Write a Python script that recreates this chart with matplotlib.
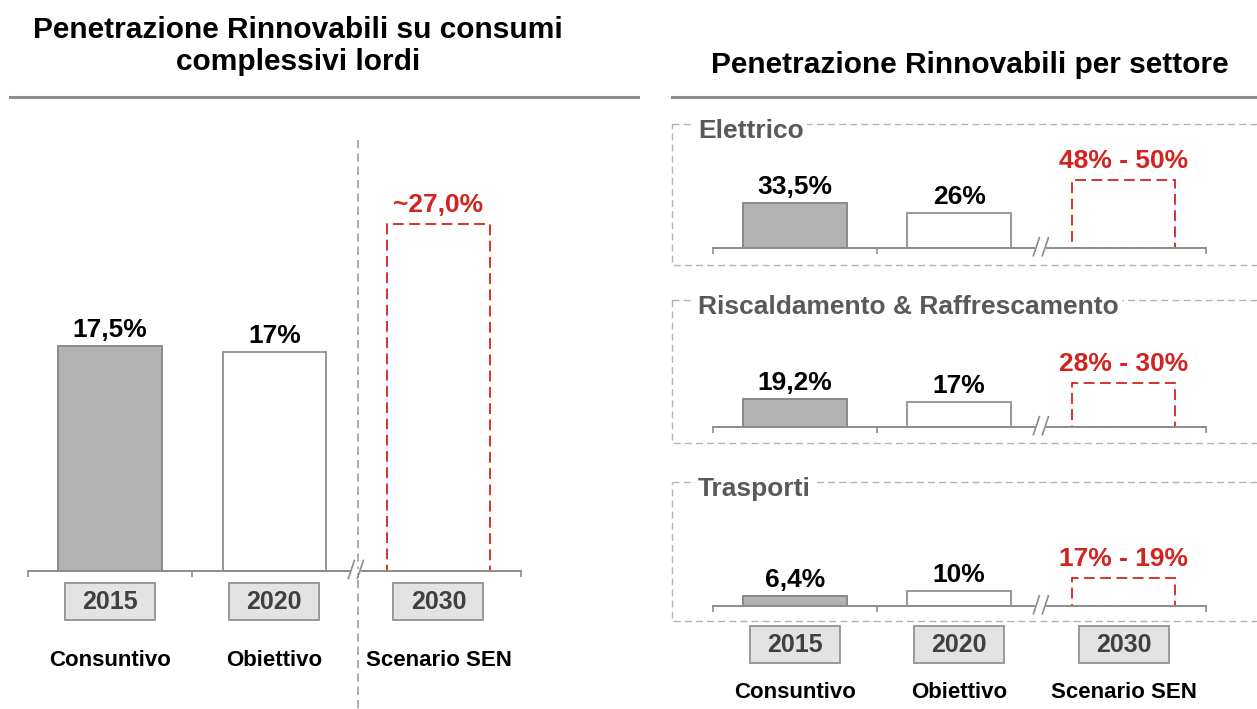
import matplotlib
matplotlib.use("Agg")
import matplotlib.pyplot as plt
from matplotlib.patches import Rectangle
from matplotlib.transforms import IdentityTransform

plt.rcParams["font.family"] = ["Liberation Sans", "DejaVu Sans"]

W, H = 1257, 709

# ── data ─────────────────────────────────────────────────────────────────────
years = ["2015", "2020", "2030"]
phases = ["Consuntivo", "Obiettivo", "Scenario SEN"]

total_values = [17.5, 17.0, 27.0]
total_labels = ["17,5%", "17%", "~27,0%"]

sectors = ["Elettrico", "Riscaldamento & Raffrescamento", "Trasporti"]
elettrico_values = [33.5, 26.0, 50.0]
elettrico_labels = ["33,5%", "26%", "48% - 50%"]
riscaldamento_values = [19.2, 17.0, 30.0]
riscaldamento_labels = ["19,2%", "17%", "28% - 30%"]
trasporti_values = [6.4, 10.0, 19.0]
trasporti_labels = ["6,4%", "10%", "17% - 19%"]

GREY_FILL = "#b2b2b2"
GREY_EDGE = "#8a8a8a"
RED = "#d2231e"
AXIS = "#8c8c8c"

fig = plt.figure(figsize=(W / 100, H / 100), dpi=100)

# background axes in pixel units (origin top-left) for the decorations
bg = fig.add_axes([0, 0, 1, 1])
bg.set_xlim(0, W)
bg.set_ylim(H, 0)
bg.axis("off")


def px_axes(x0, x1, base, height):
    ax = fig.add_axes([x0 / W, (H - base) / H, (x1 - x0) / W, height / H])
    ax.patch.set_visible(False)
    return ax


def draw_panel(ax, values, labels, ymax):
    ax.set_xlim(-0.5, 2.5)
    ax.set_ylim(0, ymax)
    ax.bar(0, values[0], width=0.63, color=GREY_FILL, edgecolor=GREY_EDGE, linewidth=1.4)
    ax.bar(1, values[1], width=0.63, color="white", edgecolor="#999999", linewidth=1.4)
    ax.bar(2, values[2], width=0.63, fill=False, edgecolor=RED, linewidth=1.3,
           linestyle=(0, (6, 3)))
    for i, (v, lab) in enumerate(zip(values, labels)):
        red = i == 2
        ax.annotate(lab, (i, v), xytext=(0, 7 if red else 4), textcoords="offset pixels",
                    ha="center", va="bottom", fontsize=19, fontweight="bold",
                    color=RED if red else "black")
    for s in ("top", "left", "right"):
        ax.spines[s].set_visible(False)
    ax.spines["bottom"].set_color(AXIS)
    ax.spines["bottom"].set_linewidth(1.4)
    ax.set_yticks([])
    ax.set_xticks([-0.5, 0.5, 2.5])
    ax.set_xticklabels([])
    ax.tick_params(axis="x", length=4.5, width=1.2, color=AXIS)

    # axis break "//" between 2020 and 2030
    bx, by = ax.transData.transform((1.5, 0))
    ident = IdentityTransform()
    ax.add_patch(Rectangle((bx - 6, by - 2), 11, 4, facecolor="white", edgecolor="none",
                           transform=ident, zorder=3, clip_on=False))
    for dx in (-8, 1):
        ax.plot([bx + dx, bx + dx + 6], [by - 8, by + 10], color=AXIS, lw=1.2,
                transform=ident, zorder=4, clip_on=False)
    return [ax.transData.transform((i, 0))[0] for i in range(3)]


def year_boxes(centers, y):
    for cx, yr in zip(centers, years):
        bg.add_patch(Rectangle((cx - 45, y - 18.5), 90, 37, facecolor="#e3e3e3",
                               edgecolor="#9a9a9a", linewidth=1.4, zorder=2))
        bg.text(cx, y + 1, yr, ha="center", va="center", fontsize=18,
                fontweight="bold", color="#404040", zorder=3)


# ── left: total ──────────────────────────────────────────────────────────────
bg.text(298, 30, "Penetrazione Rinnovabili su consumi", ha="center", va="center",
        fontsize=21.5, fontweight="bold")
bg.text(298, 62, "complessivi lordi", ha="center", va="center",
        fontsize=21.5, fontweight="bold")
bg.plot([10, 638], [97, 97], color=AXIS, lw=2.2)
bg.plot([358, 358], [140, 709], color="#a0a0a0", lw=1.2, ls=(0, (5, 3)))

ax_tot = px_axes(27.9, 520.6, 570.5, 30 * 12.84)
centers = draw_panel(ax_tot, total_values, total_labels, 30)
year_boxes(centers, 601)
for cx, ph in zip(centers, phases):
    bg.text(cx, 660, ph, ha="center", va="center", fontsize=16, fontweight="bold")

# ── right: by sector ─────────────────────────────────────────────────────────
bg.text(970, 65, "Penetrazione Rinnovabili per settore", ha="center", va="center",
        fontsize=21.5, fontweight="bold")
bg.plot([672, 1257], [97, 97], color=AXIS, lw=2.2)

panels = [
    (elettrico_values, elettrico_labels, 247.7, 1.345, 124, 265),
    (riscaldamento_values, riscaldamento_labels, 426.7, 1.45, 300, 443),
    (trasporti_values, trasporti_labels, 605.7, 1.45, 482, 621),
]
for name, (vals, labs, base, scale, top, bottom) in zip(sectors, panels):
    bg.add_patch(Rectangle((672, top), 600, bottom - top, fill=False, edgecolor="#b4b4b4",
                           linewidth=1.0, linestyle=(0, (5, 3)), zorder=1))
    bg.text(698, top + 7, name, ha="left", va="center", fontsize=19, fontweight="bold",
            color="#595959", zorder=2,
            bbox=dict(facecolor="white", edgecolor="none", pad=2))
    ax = px_axes(712.6, 1205.8, base, 55 * scale)
    centers = draw_panel(ax, vals, labs, 55)

year_boxes(centers, 644.5)
for cx, ph in zip(centers, phases):
    bg.text(cx, 692, ph, ha="center", va="center", fontsize=16, fontweight="bold")

fig.savefig("out.png", dpi=100, facecolor="white")
